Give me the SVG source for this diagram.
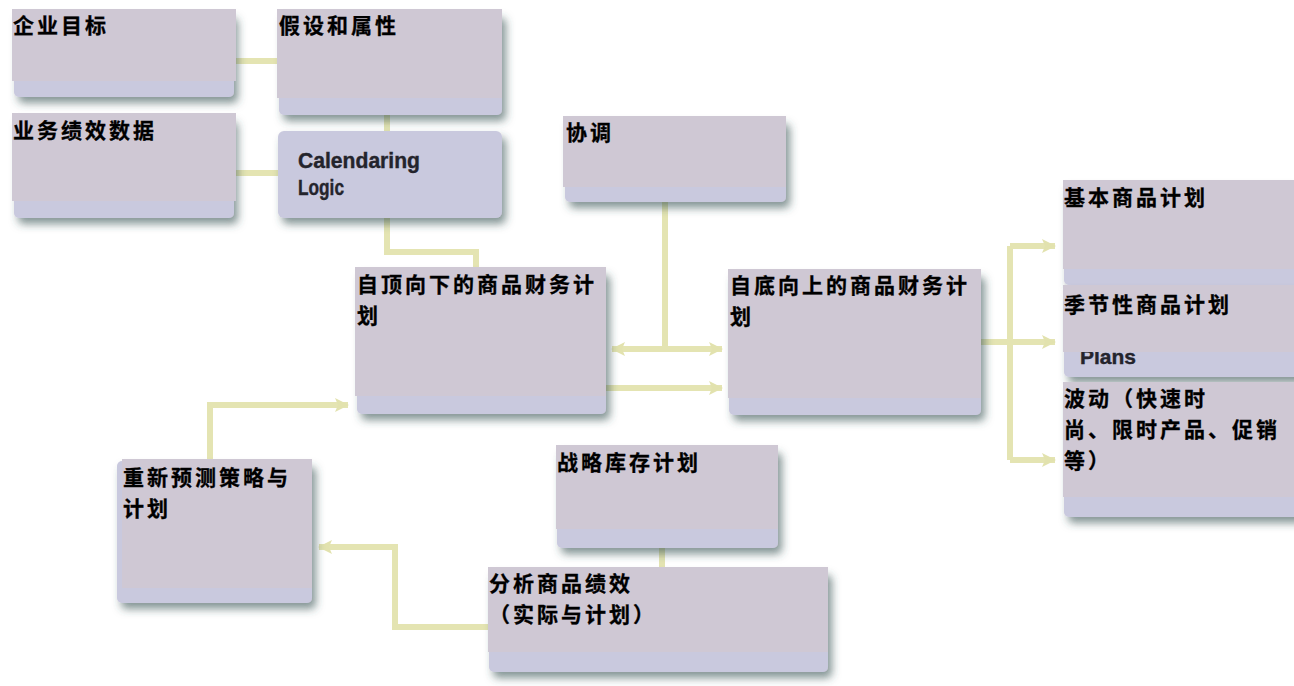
<svg xmlns="http://www.w3.org/2000/svg" width="1294" height="686" viewBox="0 0 1294 686">
<defs>
<filter id="sh" x="-10%" y="-10%" width="130%" height="140%">
<feDropShadow dx="4" dy="6" stdDeviation="4.5" flood-color="#34504f" flood-opacity="0.6"/>
</filter>
<marker id="ah" markerUnits="userSpaceOnUse" markerWidth="14" markerHeight="16" viewBox="0 0 14 16" refX="13" refY="8" orient="auto-start-reverse">
<path d="M0,1 L14,8 L0,15 L3,8 z" fill="#e2e2ae"/>
</marker>
<style>
.box{fill:#c9c9de;filter:url(#sh)}
.ov{fill:#cfc8d4}
.t{font-family:"Noto Sans CJK SC","Noto Sans",sans-serif;font-size:21px;letter-spacing:3px;font-weight:700;fill:#000;stroke:#000;stroke-width:0.3}
.en{font-family:"Liberation Sans",Arial,sans-serif;font-weight:700;fill:#24242c;stroke:#24242c;stroke-width:0.4}
.c{fill:none;stroke:#e4e4b2;stroke-width:6}
.a{fill:none;stroke:#e4e4b2;stroke-width:6;marker-end:url(#ah)}
</style>
</defs>
<rect width="1294" height="686" fill="#ffffff"/>
<g id="connectors">
<path class="c" d="M236,61 H277"/>
<path class="c" d="M236,173 H278"/>
<path class="c" d="M387,115 V131"/>
<path class="c" d="M387,218 V252 H476 V267"/>
<path class="c" d="M665,202 V349"/>
<path class="a" d="M612,349 H722" style="marker-start:url(#ah)"/>
<path class="a" d="M606,388 H722"/>
<path class="c" d="M981,342 H1010"/>
<path class="c" d="M1010,246 V460"/>
<path class="a" d="M1010,246 H1055"/>
<path class="a" d="M1010,342 H1055"/>
<path class="a" d="M1010,460 H1055"/>
<path class="c" d="M662,548 V567"/>
<path class="a" d="M489,627 H395 V547 H319"/>
<path class="a" d="M210,459 V405 H348"/>
</g>
<g id="n1">
<rect class="box" x="14" y="12" width="220" height="85" rx="5"/>
<rect class="ov" x="12" y="9" width="224" height="72"/>
<text class="t" x="13" y="33">企业目标</text>
</g>
<g id="n2">
<rect class="box" x="279" y="12" width="223" height="103" rx="5"/>
<rect class="ov" x="277" y="9" width="225" height="89"/>
<text class="t" x="279" y="33">假设和属性</text>
</g>
<g id="n3">
<rect class="box" x="14" y="116" width="220" height="102" rx="5"/>
<rect class="ov" x="12" y="113" width="224" height="88"/>
<text class="t" x="13" y="138">业务绩效数据</text>
</g>
<g id="n4">
<rect class="box" x="278" y="131" width="224" height="87" rx="6"/>
<text class="en" x="298" y="168" font-size="22" textLength="122" lengthAdjust="spacingAndGlyphs">Calendaring</text>
<text class="en" x="298" y="195" font-size="22" textLength="46" lengthAdjust="spacingAndGlyphs">Logic</text>
</g>
<g id="n5">
<rect class="box" x="565" y="118" width="221" height="84" rx="5"/>
<rect class="ov" x="563" y="116" width="223" height="71"/>
<text class="t" x="566" y="140">协调</text>
</g>
<g id="n6">
<rect class="box" x="357" y="269" width="249" height="145" rx="5"/>
<rect class="ov" x="355" y="267" width="251" height="129"/>
<text class="t" x="357" y="292">自顶向下的商品财务计<tspan x="357" dy="31">划</tspan></text>
</g>
<g id="n7">
<rect class="box" x="729" y="271" width="252" height="144" rx="5"/>
<rect class="ov" x="728" y="269" width="253" height="129"/>
<text class="t" x="730" y="293">自底向上的商品财务计<tspan x="730" dy="31">划</tspan></text>
</g>
<g id="n8">
<rect class="box" x="1064" y="182" width="240" height="103" rx="5"/>
<rect class="ov" x="1063" y="180" width="231" height="89"/>
<text class="t" x="1064" y="205">基本商品计划</text>
</g>
<g id="n9">
<rect class="box" x="1064" y="287" width="240" height="90" rx="5"/>
<text class="en" x="1080" y="364" font-size="21">Plans</text>
<rect class="ov" x="1063" y="285" width="231" height="67"/>
<text class="t" x="1064" y="312">季节性商品计划</text>
</g>
<g id="n10">
<rect class="box" x="1064" y="384" width="240" height="133" rx="5"/>
<rect class="ov" x="1063" y="382" width="231" height="115"/>
<text class="t" x="1064" y="406">波动（快速时<tspan x="1064" dy="31">尚、限时产品、促销</tspan><tspan x="1064" dy="31">等）</tspan></text>
</g>
<g id="n11">
<rect class="box" x="117" y="461" width="195" height="142" rx="5"/>
<rect class="ov" x="122" y="459" width="190" height="129"/>
<text class="t" x="123" y="485">重新预测策略与<tspan x="123" dy="31">计划</tspan></text>
</g>
<g id="n12">
<rect class="box" x="557" y="447" width="221" height="101" rx="5"/>
<rect class="ov" x="556" y="445" width="222" height="84"/>
<text class="t" x="557" y="470">战略库存计划</text>
</g>
<g id="n13">
<rect class="box" x="489" y="569" width="339" height="103" rx="5"/>
<rect class="ov" x="488" y="567" width="340" height="85"/>
<text class="t" x="489" y="591">分析商品绩效<tspan x="489" dy="31">（实际与计划）</tspan></text>
</g>
</svg>
